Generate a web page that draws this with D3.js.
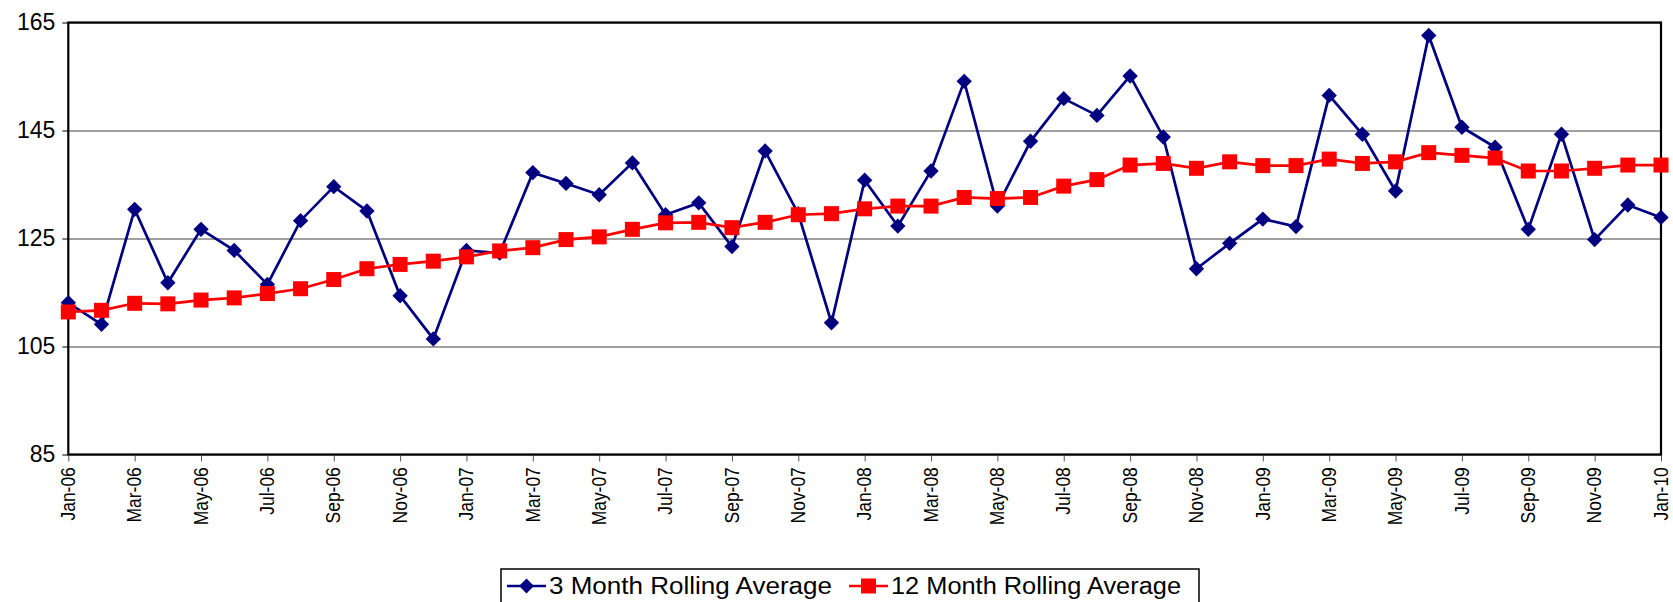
<!DOCTYPE html>
<html>
<head>
<meta charset="utf-8">
<script src="https://cdn.jsdelivr.net/npm/d3@7"></script>
<style>
  body { margin: 0; background: #fff; }
  text { font-family: "Liberation Sans", Arial, sans-serif; }
</style>
</head>
<body>
<div id="chart"></div>
<script>
var months = ["Jan-06","Feb-06","Mar-06","Apr-06","May-06","Jun-06","Jul-06","Aug-06","Sep-06","Oct-06","Nov-06","Dec-06",
  "Jan-07","Feb-07","Mar-07","Apr-07","May-07","Jun-07","Jul-07","Aug-07","Sep-07","Oct-07","Nov-07","Dec-07",
  "Jan-08","Feb-08","Mar-08","Apr-08","May-08","Jun-08","Jul-08","Aug-08","Sep-08","Oct-08","Nov-08","Dec-08",
  "Jan-09","Feb-09","Mar-09","Apr-09","May-09","Jun-09","Jul-09","Aug-09","Sep-09","Oct-09","Nov-09","Dec-09",
  "Jan-10"];

// 3 month rolling average
var threeMonth = [113.1,109.1,130.4,116.8,126.7,122.8,116.5,128.3,134.6,130.1,114.4,106.4,
  122.8,122.3,137.2,135.2,133.1,139.0,129.4,131.6,123.5,141.2,129.6,109.4,
  135.8,127.3,137.5,154.1,131.0,143.0,150.9,147.8,155.1,143.8,119.4,124.1,
  128.6,127.2,151.5,144.3,133.8,162.6,145.6,141.9,126.7,144.3,124.8,131.2,
  128.9];

// 12 month rolling average
var twelveMonth = [111.4,111.7,113.0,112.9,113.6,114.0,114.8,115.7,117.4,119.4,120.2,120.8,
  121.6,122.7,123.3,124.8,125.3,126.7,127.9,128.0,127.0,128.0,129.4,129.6,
  130.5,131.0,131.0,132.6,132.4,132.6,134.7,135.9,138.6,138.9,138.0,139.2,
  138.5,138.5,139.7,138.9,139.2,140.9,140.4,139.9,137.5,137.5,138.0,138.6,
  138.6];

var yTicks = [85, 105, 125, 145, 165];
var seriesNames = ["3 Month Rolling Average", "12 Month Rolling Average"];

var width = 1673, height = 602;
var plotLeft = 68.3, plotRight = 1661, plotTop = 22.5, plotBottom = 454.5;

var svg = d3.select("#chart").append("svg")
    .attr("width", width)
    .attr("height", height);

var x = d3.scalePoint().domain(months).range([plotLeft, plotRight]);
var y = d3.scaleLinear().domain([85, 165]).range([plotBottom, plotTop]);

// gridlines
svg.append("g")
    .attr("transform", "translate(" + plotLeft + ",0)")
    .call(d3.axisLeft(y).tickValues(yTicks).tickSize(-(plotRight - plotLeft)).tickFormat(""))
    .call(function(g) {
        g.select(".domain").remove();
        g.selectAll("line").attr("stroke", "#808080").attr("stroke-width", 1.3);
    });

// y axis
svg.append("g")
    .attr("transform", "translate(" + plotLeft + ",0)")
    .call(d3.axisLeft(y).tickValues(yTicks).tickSize(6).tickPadding(7))
    .call(function(g) {
        g.select(".domain").remove();
        g.selectAll("line").attr("stroke", "#000");
        g.selectAll("text").attr("font-size", 23).attr("fill", "#000")
          .attr("font-family", "Liberation Sans, Arial, sans-serif");
    });

// x axis
var tickMonths = months.filter(function(d, i) { return i % 2 == 0; });
svg.append("g")
    .attr("transform", "translate(0," + plotBottom + ")")
    .call(d3.axisBottom(x).tickValues(tickMonths).tickSize(7))
    .call(function(g) {
        g.select(".domain").remove();
        g.selectAll("line").attr("stroke", "#555");
        g.selectAll("text")
          .attr("font-size", 18)
          .attr("fill", "#000")
          .attr("font-family", "Liberation Sans, Arial, sans-serif")
          .attr("text-anchor", "end")
          .attr("dy", "0.35em")
          .attr("transform", "translate(-1,3) rotate(-90) scale(0.97,1.15)")
          .attr("x", -10)
          .attr("y", 0);
    });

// plot frame
svg.append("rect")
    .attr("x", plotLeft).attr("y", plotTop)
    .attr("width", plotRight - plotLeft).attr("height", plotBottom - plotTop)
    .attr("fill", "none")
    .attr("stroke", "#000")
    .attr("stroke-width", 2.2);

var line = d3.line()
    .x(function(d, i) { return x(months[i]); })
    .y(function(d) { return y(d); });

// blue series
svg.append("path")
    .datum(threeMonth)
    .attr("d", line)
    .attr("fill", "none")
    .attr("stroke", "#000080")
    .attr("stroke-width", 2.7);

svg.append("g").selectAll("path")
    .data(threeMonth)
    .enter().append("path")
    .attr("d", d3.symbol().type(d3.symbolSquare).size(118))
    .attr("transform", function(d, i) { return "translate(" + x(months[i]) + "," + y(d) + ") rotate(45)"; })
    .attr("fill", "#000080");

// red series
svg.append("path")
    .datum(twelveMonth)
    .attr("d", line)
    .attr("fill", "none")
    .attr("stroke", "#ff0000")
    .attr("stroke-width", 2.7);

svg.append("g").selectAll("rect")
    .data(twelveMonth)
    .enter().append("rect")
    .attr("x", function(d, i) { return x(months[i]) - 7.5; })
    .attr("y", function(d) { return y(d) - 7.5; })
    .attr("width", 15)
    .attr("height", 15)
    .attr("fill", "#ff0000");

// legend
var legend = svg.append("g");
legend.append("rect")
    .attr("x", 501).attr("y", 569)
    .attr("width", 698).attr("height", 40)
    .attr("fill", "#fff")
    .attr("stroke", "#000")
    .attr("stroke-width", 1.5);

var legendItems = [
  {name: seriesNames[0], x0: 507, len: 283, color: "#000080", shape: "diamond"},
  {name: seriesNames[1], x0: 849, len: 290, color: "#ff0000", shape: "square"}
];

legendItems.forEach(function(d) {
    var g = legend.append("g").attr("transform", "translate(" + d.x0 + ",586)");
    g.append("line").attr("x1", 0).attr("x2", 39).attr("y1", 0).attr("y2", 0)
        .attr("stroke", d.color).attr("stroke-width", 2.5);
    if (d.shape == "diamond") {
        g.append("path")
            .attr("d", d3.symbol().type(d3.symbolSquare).size(110))
            .attr("transform", "translate(19.5,0) rotate(45)")
            .attr("fill", d.color);
    } else {
        g.append("rect").attr("x", 12).attr("y", -7.5).attr("width", 15).attr("height", 15)
            .attr("fill", d.color);
    }
    g.append("text")
        .attr("x", 42)
        .attr("y", 0)
        .attr("dy", "0.36em")
        .attr("font-size", 23)
        .attr("textLength", d.len)
        .attr("lengthAdjust", "spacingAndGlyphs")
        .attr("fill", "#000")
        .text(d.name);
});
</script>
</body>
</html>
